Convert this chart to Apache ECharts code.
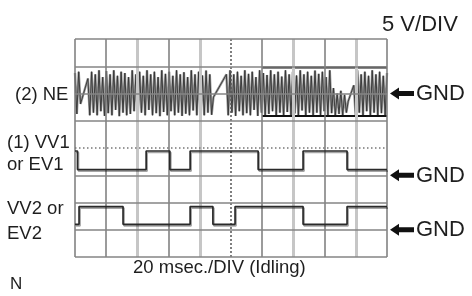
<!DOCTYPE html>
<html><head><meta charset="utf-8">
<script src="https://cdn.jsdelivr.net/npm/echarts@6/dist/echarts.min.js"></script>
<style>html,body{margin:0;padding:0;background:#fff}#c{width:472px;height:296px}</style>
</head><body><div id="c"></div>
<script>
// ---- data ----
const xDivisions = [0,1,2,3,4,5,6,7,8,9,10];
const yDivisions = [0,1,2,3,4,5,6,7,8];
const lightXDivisions = [2,4,7,9];
const centerXDivision = 5;
const dottedYDivision = 4;

// (2) NE crank signal, read left to right (null = straight ramp between readings)
const neValues = [
  6.75,5.25,6.8,5.62,null,null,null,6.55,5.2,6.8,
  5.3,6.7,5.2,6.85,5.35,6.6,5.18,6.82,5.28,6.7,
  5.2,6.85,5.4,6.65,5.17,6.8,5.3,6.75,5.2,6.6,
  5.25,6.85,5.35,6.7,5.18,6.8,5.3,6.65,5.2,6.85,
  5.4,6.7,5.2,6.8,5.28,6.6,5.17,6.85,5.32,6.72,
  5.2,6.8,5.35,6.65,5.2,6.85,5.3,6.7,5.18,6.78,
  5.26,6.6,5.2,6.85,5.38,6.7,5.2,6.8,5.3,6.66,
  5.2,6.84,5.3,6.7,5.22,5.87,null,null,null,null,
  null,null,6.7,5.2,6.85,5.3,6.7,5.18,6.8,5.35,
  6.65,5.2,6.85,5.28,6.72,5.2,6.8,5.4,6.6,5.18,
  6.85,5.3,6.75,5.2,6.68,5.25,6.85,5.35,6.7,5.2,
  6.8,5.3,6.62,5.18,6.85,5.32,6.7,5.2,6.8,5.27,
  6.66,5.2,6.85,5.38,6.7,5.18,6.8,5.3,6.65,5.2,
  6.84,5.3,6.72,5.2,6.8,5.35,6.6,5.2,6.85,5.28,
  6.2,5.2,6.0,5.25,6.1,5.2,5.95,5.3,5.72,null,
  null,6.3,5.2,6.85,5.3,6.7,5.2,6.8,5.35,6.65,
  5.18,6.85,5.3,6.7,5.2,6.8,5.28,6.65,5.2,6.75
];
const neBoxTimes = [6, 10];
const neBoxLevels = [5.17, 6.95];

const vv1Times  = [0, 0.08, 2.28, 3.04, 3.69, 5.87, 7.31, 8.72, 10];
const vv1Levels = [3.89, 3.21, 3.89, 3.21, 3.89, 3.21, 3.89, 3.21, 3.21];
const vv2Times  = [0, 0.13, 1.54, 3.69, 4.42, 5.13, 7.31, 8.72, 10];
const vv2Levels = [1.2, 1.85, 1.2, 1.85, 1.2, 1.85, 1.2, 1.85, 1.85];

const gndLevels = [6, 3, 1];
const channelLabels = ['(2) NE', '(1) VV1', 'or EV1', 'VV2 or', 'EV2'];
const voltScaleLabel = '5 V/DIV';
const timeScaleLabel = '20 msec./DIV (Idling)';
const gndLabel = 'GND';
const cornerLabel = 'N';

// ---- chart ----
const chart = echarts.init(document.getElementById('c'), null, {renderer: 'canvas'});
const FONT = '"Liberation Sans", Arial, sans-serif';

function xLineStyle(x) {
  if (x === centerXDivision) return {color: '#555', width: 1.5, type: [2, 2]};
  if (lightXDivisions.includes(x)) return {color: '#c6c6c6', width: 3, type: 'solid'};
  return {color: '#7a7a7a', width: 1.5, type: 'solid'};
}
function yLineStyle(y) {
  if (y === dottedYDivision) return {color: '#777', width: 1.5, type: [1.5, 2.5]};
  return {color: '#858585', width: 1.5, type: 'solid'};
}
const gridLines = [
  ...xDivisions.map(x => ({xAxis: x, lineStyle: xLineStyle(x)})),
  ...yDivisions.map(y => ({yAxis: y, lineStyle: yLineStyle(y)}))
];

const traceStyle = {color: '#2a2a2a', width: 1.7, shadowColor: 'rgba(0,0,0,0.35)', shadowOffsetX: 1, shadowOffsetY: 1.5, shadowBlur: 0};

chart.setOption({
  animation: false,
  backgroundColor: '#fff',
  grid: {left: 75, top: 39, width: 312, height: 218, containLabel: false},
  xAxis: [
    {type: 'value', min: 0, max: 10, interval: 1, show: false},
    {type: 'category', data: neValues.map((v, i) => String(i)), boundaryGap: false, show: false}
  ],
  yAxis: [{type: 'value', min: 0, max: 8, interval: 1, show: false}],
  series: [
    {
      type: 'line', xAxisIndex: 0, data: [[0, 0]], showSymbol: false, silent: true, z: 1,
      lineStyle: {opacity: 0},
      markLine: {silent: true, symbol: ['none', 'none'], label: {show: false}, data: gridLines, animation: false}
    },
    {
      type: 'line', xAxisIndex: 1, data: neValues, connectNulls: true, showSymbol: false, z: 2,
      lineStyle: {color: '#9a9a9a', width: 2.4}
    },
    {
      type: 'line', xAxisIndex: 1, data: neValues, connectNulls: true, showSymbol: false, z: 3,
      lineStyle: {color: '#333', width: 0.9}
    },
    {
      type: 'line', xAxisIndex: 0, z: 4, showSymbol: false,
      data: neBoxTimes.map(t => [t, neBoxLevels[1]]),
      lineStyle: {color: '#111', width: 2}
    },
    {
      type: 'line', xAxisIndex: 0, z: 4, showSymbol: false,
      data: neBoxTimes.map(t => [t, neBoxLevels[0]]),
      lineStyle: {color: '#111', width: 2}
    },
    {
      type: 'line', xAxisIndex: 0, z: 5, step: 'end', showSymbol: false,
      data: vv1Times.map((t, i) => [t, vv1Levels[i]]), lineStyle: traceStyle
    },
    {
      type: 'line', xAxisIndex: 0, z: 5, step: 'end', showSymbol: false,
      data: vv2Times.map((t, i) => [t, vv2Levels[i]]), lineStyle: traceStyle
    }
  ]
});

// ---- annotations (text + GND arrows) ----
function txt(str, x, y, size, align) {
  return {type: 'text', x: x, y: y, silent: true, z: 10,
    style: {text: str, font: size + 'px ' + FONT, fill: '#1e1e1e', align: align || 'left', verticalAlign: 'middle'}};
}
const gridRight = chart.convertToPixel({xAxisIndex: 0}, 10);
const graphics = [
  txt(voltScaleLabel, 382, 24.5, 22),
  txt(channelLabels[0], 15, 94.7, 18.5),
  txt(channelLabels[1], 7, 142.6, 18.5),
  txt(channelLabels[2], 7, 164.6, 18.5),
  txt(channelLabels[3], 7, 209.2, 18.5),
  txt(channelLabels[4], 7, 233.8, 18.5),
  txt(timeScaleLabel, 133, 268, 18.5),
  txt(cornerLabel, 10, 284, 17)
];
gndLevels.forEach(lv => {
  const y = chart.convertToPixel({yAxisIndex: 0}, lv);
  const x0 = gridRight + 3;
  graphics.push({
    type: 'polygon', silent: true, z: 10,
    shape: {points: [[x0, y], [x0 + 9, y - 6], [x0 + 9, y - 2.6], [x0 + 24, y - 2.6], [x0 + 24, y + 2.6], [x0 + 9, y + 2.6], [x0 + 9, y + 6]]},
    style: {fill: '#111'}
  });
  graphics.push(txt(gndLabel, x0 + 26, y + 0.3, 22));
});
chart.setOption({graphic: graphics});
</script>
</body></html>
